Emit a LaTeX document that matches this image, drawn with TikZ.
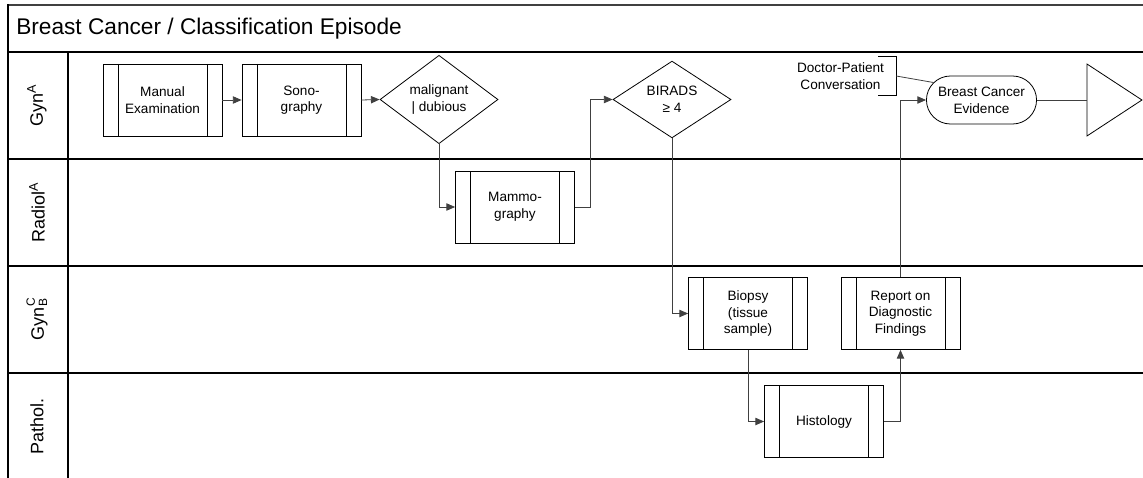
\documentclass[tikz,border=0pt]{standalone}
\usepackage{fontspec}
\setmainfont{Liberation Sans}
\usetikzlibrary{shapes.geometric,shapes.misc,arrows.meta}

\begin{document}
\begin{tikzpicture}[x=0.75pt,y=-0.75pt,
    lane/.style={line width=0.8pt},
    txt/.style={align=center, font=\fontsize{10.2}{12.5}\selectfont},
    sub/.style={txt, draw, line width=0.6pt, minimum width=89.25pt, minimum height=54pt,
      path picture={
        \draw ([xshift=11.25pt]path picture bounding box.north west) -- ([xshift=11.25pt]path picture bounding box.south west);
        \draw ([xshift=-11.25pt]path picture bounding box.north east) -- ([xshift=-11.25pt]path picture bounding box.south east);}},
    cond/.style={txt, draw, diamond, line width=0.6pt, minimum width=88.5pt, minimum height=53.25pt, inner sep=0pt},
    flow/.style={line width=0.6pt, black!75, -{Triangle[length=6.5pt,width=5.5pt]}},
    lanelabel/.style={rotate=90, font=\fontsize{13.5}{16}\selectfont},
  ]
    \useasboundingbox (0,0) rectangle (1143,478);
    \draw[line width=1.5pt, black!75] (8,5) -- (1143,5);
    \draw[lane] (8,4.5) -- (8,478) (68,52) -- (68,478);
    \foreach \y in {52,159,266,373}
      \draw[lane] (8,\y) -- (1143,\y);

    \node[anchor=west, inner sep=0pt, font=\fontsize{17}{20}\selectfont] (title) at (16,28.5) {Breast Cancer / Classification Episode};
    \node[lanelabel] (gynA) at (37,105.5) {Gyn\textsuperscript{A}};
    \node[lanelabel] (radiol) at (37,212.5) {Radiol\textsuperscript{A}};
    \node[lanelabel] (gynCB) at (37,319.5) {Gyn\rlap{\raisebox{0.95ex}{\fontsize{9}{10}\selectfont C}}\raisebox{-0.35ex}{\fontsize{9}{10}\selectfont B}};
    \node[lanelabel] (pathol) at (37,426.5) {Pathol.};

    \node[sub] (man) at (162.5,100) {Manual\\Examination};
    \node[sub] (sono) at (301.5,100) {Sono-\\graphy};
    \node[cond] (malig) at (439,99.5) {malignant\\| dubious};
    \node[sub] (mammo) at (515,207) {Mammo-\\graphy};
    \node[cond] (birads) at (672,99.5) {BIRADS\\≥ 4};
    \node[sub] (biopsy) at (748,313.5) {Biopsy\\(tissue\\sample)};
    \node[sub] (report) at (900.5,313.5) {Report on\\Diagnostic\\Findings};
    \node[sub] (histo) at (824,421.5) {Histology};
    \node[txt, draw, rounded rectangle, line width=0.6pt, minimum width=89.25pt, minimum height=36pt] (bce) at (981.5,100) {Breast Cancer\\Evidence};
    \node[draw, isosceles triangle, isosceles triangle stretches, line width=0.6pt, minimum width=54pt, minimum height=41.25pt, inner sep=0pt, anchor=apex] (end) at (1143,100) {};
    \node[txt, inner xsep=9pt, inner ysep=0pt, minimum height=28.5pt] (conv) at (840.5,76) {Doctor-Patient\\Conversation};

    \draw[flow] (man.east) -- (sono.west);
    \draw[flow] (sono.east) -- (malig.west);
    \draw[flow] (malig.south) |- (mammo.west);
    \draw[flow] (mammo.east) -- ++(15,0) |- (birads.west);
    \draw[flow] (birads.south) |- (biopsy.west);
    \draw[flow] (biopsy.south) |- (histo.west);
    \draw[flow] (histo.east) -| (report.south);
    \draw[flow] (report.north) |- (bce.west);
    \draw[line width=0.6pt, black!75] (bce.east) -- (end.west);
    \draw[line width=0.6pt] ([xshift=-13.5pt]conv.north east) -- (conv.north east) -- (conv.south east) -- ([xshift=-13.5pt]conv.south east);
    \draw[line width=0.6pt, black!75] (conv.east) -- (bce.160);
\end{tikzpicture}
\end{document}
